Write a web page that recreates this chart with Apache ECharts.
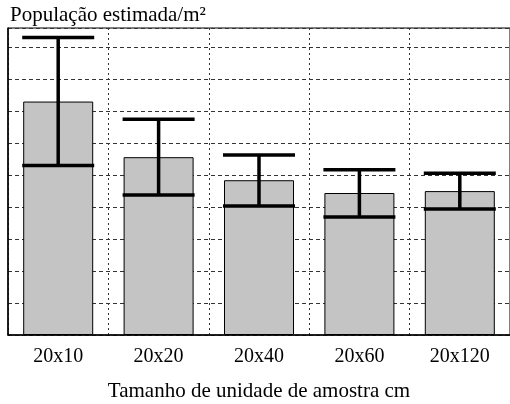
<!DOCTYPE html>
<html>
<head>
<meta charset="utf-8">
<script src="https://cdn.jsdelivr.net/npm/echarts@6/dist/echarts.min.js"></script>
<style>
  html, body { margin: 0; padding: 0; background: #fff; }
  #chart { width: 510px; height: 404px; }
</style>
</head>
<body>
<div id="chart"></div>
<script>
// categorias (tamanho da unidade de amostra)
const categories = ['20x10', '20x20', '20x40', '20x60', '20x120']
// média estimada (unidades relativas, sem escala no eixo original)
const means = [73, 55.6, 48.4, 44.4, 45]
// limites inferior e superior das barras de erro
const lows = [53, 43.8, 40.3, 36.9, 39.4]
const highs = [93, 67.5, 56.3, 51.7, 50.6]

const serif = '"Liberation Serif", "DejaVu Serif", serif'
let myChart = echarts.init(document.getElementById('chart'))

const errData = categories.map((c, i) => [i, lows[i], highs[i]])

let option = {
  animation: false,
  backgroundColor: '#fff',
  title: {
    text: 'População estimada/m²',
    left: 5,
    top: 0,
    textStyle: { fontFamily: serif, fontWeight: 'normal', fontSize: 21, color: '#000' }
  },
  grid: {
    left: 8,
    right: 0,
    top: 28,
    bottom: 69,
    outerBoundsMode: 'none',
    show: true,
    borderColor: '#000',
    borderWidth: 1
  },
  xAxis: {
    type: 'category',
    data: categories,
    name: 'Tamanho de unidade de amostra cm',
    nameLocation: 'middle',
    nameGap: 46,
    nameTextStyle: { fontFamily: serif, fontSize: 21, color: '#000' },
    axisLine: { lineStyle: { color: '#000', width: 1.5 } },
    axisTick: { show: false },
    axisLabel: { fontFamily: serif, fontSize: 20, color: '#000', margin: 12 },
    splitLine: { show: true, lineStyle: { color: '#333', type: [2, 3], width: 1 } }
  },
  yAxis: {
    type: 'value',
    min: 0,
    max: 96,
    interval: 10,
    axisLine: { show: true, lineStyle: { color: '#000', width: 1.5 } },
    axisTick: { show: false },
    axisLabel: { show: false },
    splitLine: { show: true, lineStyle: { color: '#333', type: [4, 3], width: 1 } }
  },
  series: [
    {
      type: 'bar',
      data: means,
      barWidth: 70,
      itemStyle: { color: '#c4c4c4', borderColor: '#000', borderWidth: 1 }
    },
    {
      type: 'custom',
      data: errData,
      z: 5,
      renderItem: function (params, api) {
        const i = api.value(0)
        const lo = api.coord([i, api.value(1)])
        const hi = api.coord([i, api.value(2)])
        const half = 36
        const style = { stroke: '#000', lineWidth: 3.5 }
        return {
          type: 'group',
          children: [
            { type: 'line', shape: { x1: lo[0] - half, y1: lo[1], x2: lo[0] + half, y2: lo[1] }, style: style },
            { type: 'line', shape: { x1: lo[0], y1: lo[1], x2: hi[0], y2: hi[1] }, style: style },
            { type: 'line', shape: { x1: hi[0] - half, y1: hi[1], x2: hi[0] + half, y2: hi[1] }, style: style }
          ]
        }
      }
    }
  ]
}

option && myChart.setOption(option)
</script>
</body>
</html>
